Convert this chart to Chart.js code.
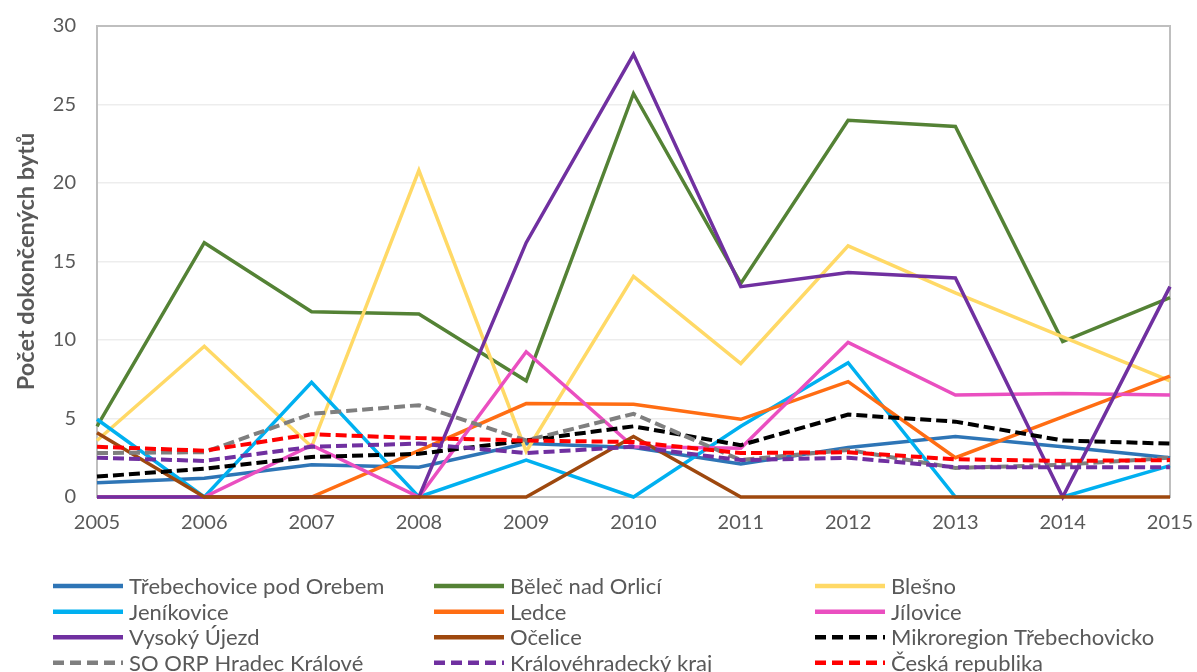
<!DOCTYPE html>
<html lang="cs">
<head>
<meta charset="UTF-8">
<title>Počet dokončených bytů</title>
<script src="https://cdn.jsdelivr.net/npm/chart.js"></script>
<style>
  body { margin: 0; padding: 0; background: #fff; }
  #chart { display: block; }
</style>
</head>
<body>
<canvas id="chart" width="1197" height="672"></canvas>
<script>
// data
const years = ['2005', '2006', '2007', '2008', '2009', '2010', '2011', '2012', '2013', '2014', '2015'];
const yTicks = [0, 5, 10, 15, 20, 25, 30];

const trebechovice = [0.9, 1.2, 2.05, 1.9, 3.4, 3.15, 2.1, 3.15, 3.85, 3.2, 2.5];
const belec = [4.5, 16.2, 11.8, 11.65, 7.4, 25.7, 13.6, 24.0, 23.6, 9.9, 12.7];
const blesno = [3.6, 9.6, 3.2, 20.8, 2.9, 14.05, 8.5, 16.0, 13.0, 10.2, 7.4];
const jenikovice = [4.95, 0, 7.3, 0, 2.35, 0, 4.5, 8.55, 0, 0, 2.0];
const ledce = [0, 0, 0, 2.95, 5.95, 5.9, 4.95, 7.35, 2.5, 5.1, 7.7];
const jilovice = [0, 0, 3.3, 0, 9.25, 3.2, 3.1, 9.85, 6.5, 6.6, 6.5];
const vysokyUjezd = [0, 0, 0, 0, 16.2, 28.2, 13.4, 14.3, 13.95, 0, 13.4];
const ocelice = [4.1, 0, 0, 0, 0, 3.85, 0, 0, 0, 0, 0];
const mikroregion = [1.3, 1.8, 2.55, 2.75, 3.6, 4.5, 3.3, 5.25, 4.8, 3.6, 3.4];
const soOrp = [2.8, 2.85, 5.3, 5.85, 3.6, 5.3, 2.35, 3.0, 1.85, 2.05, 2.5];
const khk = [2.5, 2.3, 3.2, 3.4, 2.8, 3.2, 2.35, 2.5, 1.9, 1.9, 1.9];
const cr = [3.2, 2.95, 4.0, 3.75, 3.6, 3.5, 2.8, 2.85, 2.4, 2.3, 2.35];

const textColor = '#595959';
const fontFamily = 'Lato, "Open Sans", sans-serif';

function solid(label, data, color) {
  return { label: label, data: data, borderColor: color, backgroundColor: color,
           borderWidth: 3.5, pointRadius: 0, tension: 0, fill: false, clip: false };
}
function dashed(label, data, color) {
  return { label: label, data: data, borderColor: color, backgroundColor: color,
           borderWidth: 4, borderDash: [11, 5], pointRadius: 0, tension: 0, fill: false, clip: false };
}

const datasets = [
  solid('Třebechovice pod Orebem', trebechovice, '#2E75B6'),
  solid('Běleč nad Orlicí', belec, '#548235'),
  solid('Blešno', blesno, '#FFD966'),
  solid('Jeníkovice', jenikovice, '#00B0F0'),
  solid('Ledce', ledce, '#FF6D13'),
  solid('Jílovice', jilovice, '#EA4FC0'),
  solid('Vysoký Újezd', vysokyUjezd, '#7030A0'),
  solid('Očelice', ocelice, '#9E480E'),
  dashed('Mikroregion Třebechovicko', mikroregion, '#000000'),
  dashed('SO ORP Hradec Králové', soOrp, '#7F7F7F'),
  dashed('Královéhradecký kraj', khk, '#7030A0'),
  dashed('Česká republika', cr, '#FF0000')
];
// later series are painted on top, like in Excel
datasets.forEach((ds, i) => { ds.order = datasets.length - i; });

// plot frame drawn like the Excel plot area border
const frame = {
  id: 'frame',
  beforeDatasetsDraw(chart) {
    const a = chart.chartArea, ctx = chart.ctx;
    ctx.save();
    ctx.strokeStyle = '#BFBFBF';
    ctx.lineWidth = 2;
    ctx.strokeRect(a.left, a.top, a.right - a.left, a.bottom - a.top);
    ctx.restore();
  }
};

// 3 column legend below the plot
const gridLegend = {
  id: 'gridLegend',
  afterDraw(chart) {
    const ctx = chart.ctx;
    const colX = [53, 434, 815];
    const rowY = [586, 611.7, 637.3, 662.7];
    ctx.save();
    ctx.font = '22px ' + fontFamily;
    ctx.textBaseline = 'middle';
    chart.data.datasets.forEach((ds, i) => {
      const x = colX[i % 3], y = rowY[Math.floor(i / 3)];
      ctx.strokeStyle = ds.borderColor;
      ctx.lineWidth = 4.5;
      ctx.setLineDash(ds.borderDash ? [11, 6] : []);
      ctx.beginPath();
      ctx.moveTo(x, y);
      ctx.lineTo(x + 70, y);
      ctx.stroke();
      ctx.setLineDash([]);
      ctx.fillStyle = textColor;
      ctx.fillText(ds.label, x + 76, y + 1);
    });
    ctx.restore();
  }
};

new Chart(document.getElementById('chart').getContext('2d'), {
  type: 'line',
  data: { labels: years, datasets: datasets },
  options: {
    responsive: false,
    animation: false,
    layout: { padding: { left: 0, right: 27, top: 26, bottom: 0 } },
    plugins: { legend: { display: false }, tooltip: { enabled: false } },
    scales: {
      x: {
        offset: false,
        grid: { display: false, drawTicks: false },
        border: { display: false },
        ticks: { color: textColor, font: { family: fontFamily, size: 20 }, padding: 14, maxRotation: 0 },
        afterFit: s => { s.height = 175; s.paddingLeft = 0; s.paddingRight = 0; }
      },
      y: {
        min: 0, max: 30,
        afterBuildTicks: s => { s.ticks = yTicks.map(v => ({ value: v })); },
        grid: { color: '#EDEDED', lineWidth: 1.5, drawTicks: false },
        border: { display: false },
        ticks: { color: textColor, font: { family: fontFamily, size: 20 }, padding: 21 },
        title: { display: true, text: 'Počet dokončených bytů', color: textColor,
                 font: { family: fontFamily, size: 23.5, weight: 'bold' }, padding: { top: 12, bottom: 0 } },
        afterFit: s => { s.width = 97; s.paddingTop = 0; s.paddingBottom = 0; }
      }
    }
  },
  plugins: [frame, gridLegend]
});
</script>
</body>
</html>
